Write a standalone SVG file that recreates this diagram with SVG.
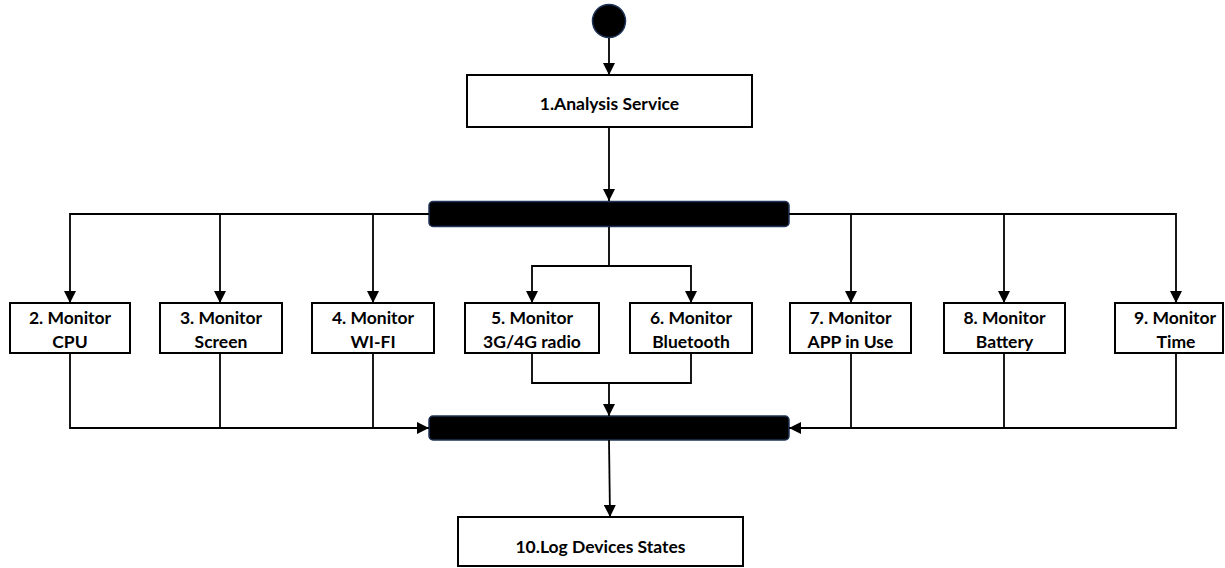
<svg xmlns="http://www.w3.org/2000/svg" width="1225" height="568" viewBox="0 0 1225 568">
<style>
.box{fill:#fff;stroke:#000;stroke-width:2}
.bar{fill:#000;stroke:#1f3458;stroke-width:1.5}
.t{font-family:Lato,"Open Sans",sans-serif;font-weight:bold;font-size:17.5px;fill:#000;text-anchor:middle;dominant-baseline:central}
.c{fill:none;stroke:#000;stroke-width:1.8}
</style>
<defs>
<marker id="ah" markerWidth="12" markerHeight="12" refX="12" refY="6" orient="auto" markerUnits="userSpaceOnUse" viewBox="0 0 12 12">
<path d="M0,0 L12,6 L0,12 z" fill="#000"/>
</marker>
</defs>
<rect width="1225" height="568" fill="#fff"/>
<g id="start"><circle cx="609" cy="21" r="16.5" fill="#000" stroke="#1f3458" stroke-width="1.5"/></g>
<g id="n1"><rect class="box" x="467" y="75" width="285" height="52"/><text class="t" x="609.5" y="103">1.Analysis Service</text></g>
<g id="fork"><rect class="bar" x="429" y="201.5" width="360" height="25" rx="4"/></g>
<g id="n2"><rect class="box" x="10" y="303" width="120" height="50"/><text class="t" x="70" y="317">2. Monitor</text><text class="t" x="70" y="341">CPU</text></g>
<g id="n3"><rect class="box" x="160" y="303" width="122" height="50"/><text class="t" x="221" y="317">3. Monitor</text><text class="t" x="221" y="341">Screen</text></g>
<g id="n4"><rect class="box" x="312" y="303" width="122" height="50"/><text class="t" x="373" y="317">4. Monitor</text><text class="t" x="373" y="341">WI-FI</text></g>
<g id="n5"><rect class="box" x="465" y="303" width="134" height="50"/><text class="t" x="532" y="317">5. Monitor</text><text class="t" x="532" y="341">3G/4G radio</text></g>
<g id="n6"><rect class="box" x="630" y="303" width="122" height="50"/><text class="t" x="691" y="317">6. Monitor</text><text class="t" x="691" y="341">Bluetooth</text></g>
<g id="n7"><rect class="box" x="790" y="303" width="121" height="50"/><text class="t" x="850.5" y="317">7. Monitor</text><text class="t" x="850.5" y="341">APP in Use</text></g>
<g id="n8"><rect class="box" x="944" y="303" width="121" height="50"/><text class="t" x="1004.5" y="317">8. Monitor</text><text class="t" x="1004.5" y="341">Battery</text></g>
<g id="n9"><rect class="box" x="1115" y="303" width="108" height="50"/><text class="t" x="1175" y="317">9. Monitor</text><text class="t" x="1176" y="341">Time</text></g>
<g id="join"><rect class="bar" x="429" y="416" width="360" height="24" rx="4"/></g>
<g id="n10"><rect class="box" x="458" y="517" width="285" height="49"/><text class="t" x="600.5" y="546">10.Log Devices States</text></g>
<g id="connectors">
<path class="c" d="M609,38 V75" marker-end="url(#ah)"/>
<path class="c" d="M609,127 V201" marker-end="url(#ah)"/>
<path class="c" d="M429,214 H70 V303" marker-end="url(#ah)"/>
<path class="c" d="M220,214 V303" marker-end="url(#ah)"/>
<path class="c" d="M373,214 V303" marker-end="url(#ah)"/>
<path class="c" d="M789,214 H1176 V303" marker-end="url(#ah)"/>
<path class="c" d="M851,214 V303" marker-end="url(#ah)"/>
<path class="c" d="M1004,214 V303" marker-end="url(#ah)"/>
<path class="c" d="M609,227 V266 H532 V303" marker-end="url(#ah)"/>
<path class="c" d="M609,266 H691 V303" marker-end="url(#ah)"/>
<path class="c" d="M532,353 V383 H691 V353"/>
<path class="c" d="M609,383 V416" marker-end="url(#ah)"/>
<path class="c" d="M70,353 V428 H429" marker-end="url(#ah)"/>
<path class="c" d="M220,353 V428"/>
<path class="c" d="M373,353 V428"/>
<path class="c" d="M1176,353 V428 H789" marker-end="url(#ah)"/>
<path class="c" d="M851,353 V428"/>
<path class="c" d="M1004,353 V428"/>
<path class="c" d="M609,440 L610,517" marker-end="url(#ah)"/>
</g>
</svg>
